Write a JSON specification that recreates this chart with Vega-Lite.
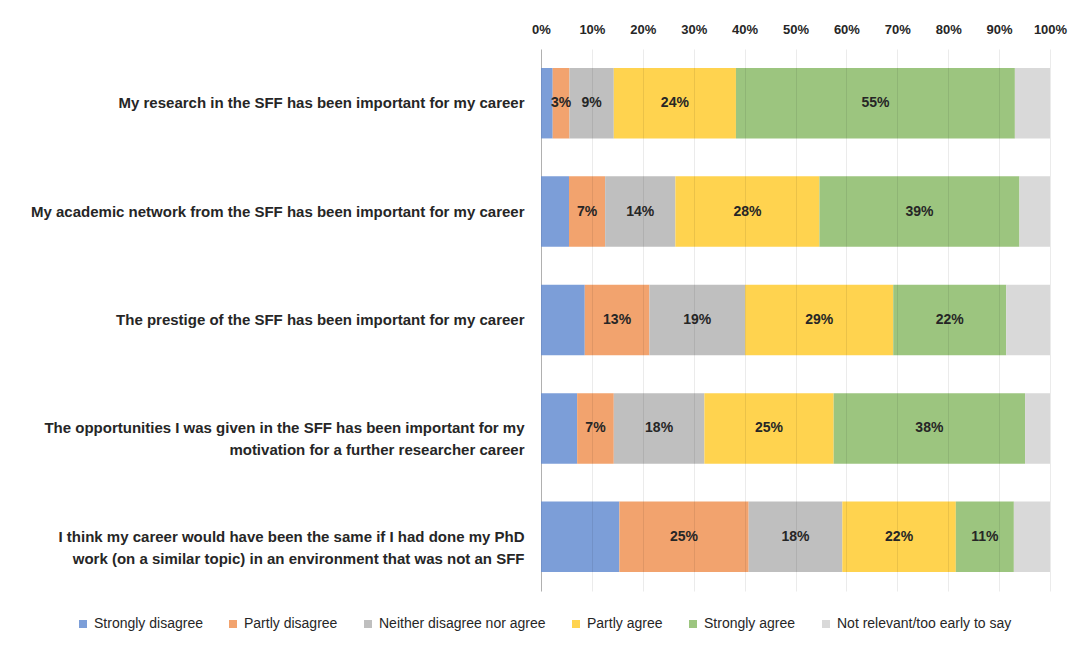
{
  "$schema": "https://vega.github.io/schema/vega-lite/v6.json",
  "width": 509,
  "height": 542,
  "autosize": "none",
  "padding": {"left": 541, "top": 49, "right": 33, "bottom": 54},
  "background": "white",
  "config": {"view": {"stroke": null}, "font": "Liberation Sans"},
  "data": {
    "values": [
      {"q": "My research in the SFF has been important for my career", "c": "Strongly disagree", "k": 1, "v": 0.023},
      {"q": "My research in the SFF has been important for my career", "c": "Partly disagree", "k": 2, "v": 0.033},
      {"q": "My research in the SFF has been important for my career", "c": "Neither disagree nor agree", "k": 3, "v": 0.087},
      {"q": "My research in the SFF has been important for my career", "c": "Partly agree", "k": 4, "v": 0.240},
      {"q": "My research in the SFF has been important for my career", "c": "Strongly agree", "k": 5, "v": 0.548},
      {"q": "My research in the SFF has been important for my career", "c": "Not relevant/too early to say", "k": 6, "v": 0.069},
      {"q": "My academic network from the SFF has been important for my career", "c": "Strongly disagree", "k": 1, "v": 0.055},
      {"q": "My academic network from the SFF has been important for my career", "c": "Partly disagree", "k": 2, "v": 0.071},
      {"q": "My academic network from the SFF has been important for my career", "c": "Neither disagree nor agree", "k": 3, "v": 0.138},
      {"q": "My academic network from the SFF has been important for my career", "c": "Partly agree", "k": 4, "v": 0.283},
      {"q": "My academic network from the SFF has been important for my career", "c": "Strongly agree", "k": 5, "v": 0.393},
      {"q": "My academic network from the SFF has been important for my career", "c": "Not relevant/too early to say", "k": 6, "v": 0.060},
      {"q": "The prestige of the SFF has been important for my career", "c": "Strongly disagree", "k": 1, "v": 0.086},
      {"q": "The prestige of the SFF has been important for my career", "c": "Partly disagree", "k": 2, "v": 0.127},
      {"q": "The prestige of the SFF has been important for my career", "c": "Neither disagree nor agree", "k": 3, "v": 0.188},
      {"q": "The prestige of the SFF has been important for my career", "c": "Partly agree", "k": 4, "v": 0.291},
      {"q": "The prestige of the SFF has been important for my career", "c": "Strongly agree", "k": 5, "v": 0.222},
      {"q": "The prestige of the SFF has been important for my career", "c": "Not relevant/too early to say", "k": 6, "v": 0.086},
      {"q": "The opportunities I was given in the SFF has been important for my motivation for a further researcher career", "c": "Strongly disagree", "k": 1, "v": 0.071},
      {"q": "The opportunities I was given in the SFF has been important for my motivation for a further researcher career", "c": "Partly disagree", "k": 2, "v": 0.072},
      {"q": "The opportunities I was given in the SFF has been important for my motivation for a further researcher career", "c": "Neither disagree nor agree", "k": 3, "v": 0.178},
      {"q": "The opportunities I was given in the SFF has been important for my motivation for a further researcher career", "c": "Partly agree", "k": 4, "v": 0.254},
      {"q": "The opportunities I was given in the SFF has been important for my motivation for a further researcher career", "c": "Strongly agree", "k": 5, "v": 0.376},
      {"q": "The opportunities I was given in the SFF has been important for my motivation for a further researcher career", "c": "Not relevant/too early to say", "k": 6, "v": 0.049},
      {"q": "I think my career would have been the same if I had done my PhD work (on a similar topic) in an environment that was not an SFF", "c": "Strongly disagree", "k": 1, "v": 0.154},
      {"q": "I think my career would have been the same if I had done my PhD work (on a similar topic) in an environment that was not an SFF", "c": "Partly disagree", "k": 2, "v": 0.254},
      {"q": "I think my career would have been the same if I had done my PhD work (on a similar topic) in an environment that was not an SFF", "c": "Neither disagree nor agree", "k": 3, "v": 0.184},
      {"q": "I think my career would have been the same if I had done my PhD work (on a similar topic) in an environment that was not an SFF", "c": "Partly agree", "k": 4, "v": 0.223},
      {"q": "I think my career would have been the same if I had done my PhD work (on a similar topic) in an environment that was not an SFF", "c": "Strongly agree", "k": 5, "v": 0.114},
      {"q": "I think my career would have been the same if I had done my PhD work (on a similar topic) in an environment that was not an SFF", "c": "Not relevant/too early to say", "k": 6, "v": 0.071}
    ]
  },
  "transform": [
    {"stack": "v", "groupby": ["q"], "sort": [{"field": "k"}], "as": ["v0", "v1"]},
    {"calculate": "(datum.v0 + datum.v1) / 2", "as": "mid"}
  ],
  "encoding": {
    "y": {
      "field": "q",
      "type": "nominal",
      "sort": null,
      "scale": {"paddingInner": 0.35, "paddingOuter": 0.175},
      "axis": {
        "title": null,
        "orient": "left",
        "domain": true,
        "domainColor": "#bfbfbf",
        "domainWidth": 1,
        "ticks": false,
        "grid": false,
        "labelFontWeight": "bold",
        "labelFontSize": 15,
        "labelColor": "#262626",
        "labelPadding": 17,
        "labelLimit": 700,
        "labelLineHeight": 22,
        "labelExpr": "split(replace(datum.label, regexp('^(.{60,67}) '), '$1|'), '|')"
      }
    }
  },
  "layer": [
    {
      "mark": {"type": "bar"},
      "encoding": {
        "x": {
          "field": "v0",
          "type": "quantitative",
          "scale": {"domain": [0, 1], "nice": false},
          "axis": {
            "title": null,
            "orient": "top",
            "values": [0, 0.1, 0.2, 0.3, 0.4, 0.5, 0.6, 0.7, 0.8, 0.9, 1],
            "format": ".0%",
            "domain": false,
            "ticks": false,
            "grid": true,
            "gridColor": "#000000",
            "gridOpacity": 0.08,
            "zindex": 1,
            "labelFontWeight": "bold",
            "labelFontSize": 13,
            "labelColor": "#262626",
            "labelPadding": 13,
            "labelFlush": false
          }
        },
        "x2": {"field": "v1"},
        "color": {
          "field": "c",
          "type": "nominal",
          "sort": null,
          "scale": {
            "domain": ["Strongly disagree", "Partly disagree", "Neither disagree nor agree", "Partly agree", "Strongly agree", "Not relevant/too early to say"],
            "range": ["#7c9ed8", "#f2a36e", "#bfbfbf", "#ffd34f", "#9cc57f", "#d9d9d9"]
          },
          "legend": {
            "title": null,
            "orient": "none",
            "direction": "horizontal",
            "legendX": -465,
            "legendY": 568,
            "symbolType": "square",
            "symbolSize": 64,
            "symbolStrokeWidth": 0,
            "labelFontSize": 14,
            "labelLimit": 400,
            "labelColor": "#262626",
            "columnPadding": 23,
            "labelOffset": 4
          }
        }
      }
    },
    {
      "transform": [{"filter": "datum.c != 'Strongly disagree' && datum.c != 'Not relevant/too early to say'"}],
      "mark": {"type": "text", "fontWeight": "bold", "fontSize": 14, "color": "#262626"},
      "encoding": {
        "x": {"field": "mid", "type": "quantitative"},
        "text": {"field": "v", "type": "quantitative", "format": ".0%"}
      }
    }
  ]
}
